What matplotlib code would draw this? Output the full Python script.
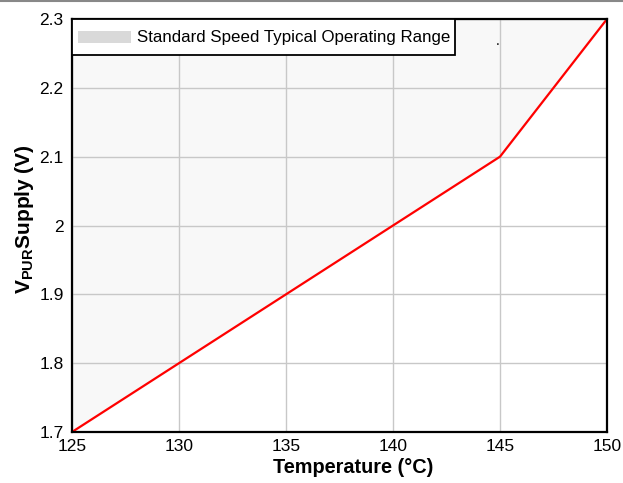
import matplotlib
matplotlib.use("Agg")
import matplotlib.pyplot as plt
from matplotlib.patches import Rectangle

plt.rcParams['font.family'] = ['Liberation Sans', 'DejaVu Sans']
plt.rcParams['mathtext.fontset'] = 'custom'
plt.rcParams['mathtext.bf'] = 'Liberation Sans:bold'
plt.rcParams['mathtext.rm'] = 'Liberation Sans'

# Data
temperature = [125, 145, 150]
vpur_supply = [1.7, 2.1, 2.3]
x_ticks = [125, 130, 135, 140, 145, 150]
y_ticks = [1.7, 1.8, 1.9, 2.0, 2.1, 2.2, 2.3]
y_tick_labels = ['1.7', '1.8', '1.9', '2', '2.1', '2.2', '2.3']
legend_label = 'Standard Speed Typical Operating Range'

fig = plt.figure(figsize=(6.23, 4.83), dpi=100)
ax = fig.add_axes([72 / 623, 1 - 432 / 483, 535 / 623, 413 / 483])

# shaded operating range above the limit line
ax.fill_between(temperature, vpur_supply, max(y_ticks), color='#f8f8f8', zorder=0.2)
ax.plot(temperature, vpur_supply, color='#ff0000', lw=1.6, zorder=3)

ax.set_xlim(125, 150)
ax.set_ylim(1.7, 2.3)
ax.set_xticks(x_ticks)
ax.set_yticks(y_ticks)
ax.set_yticklabels(y_tick_labels)
ax.tick_params(length=0, labelsize=12.5)
ax.tick_params(axis='x', pad=5)
ax.tick_params(axis='y', pad=6)
ax.grid(True, color='#c8c8c8', lw=1)
ax.set_axisbelow(True)
for s in ax.spines.values():
    s.set_linewidth(1.6)
    s.set_zorder(5)

ax.set_xlabel('Temperature (°C)', fontsize=14.3, fontweight='bold')
ax.xaxis.set_label_coords(0.525, -0.063)
ax.set_ylabel(r'V$_{\mathbf{PUR}}$Supply (V)', fontsize=15, fontweight='bold')
ax.yaxis.set_label_coords(-0.067, 0.515)

# legend box drawn by hand to match the square layout
ax.add_patch(Rectangle((0, 0.913), 0.716, 0.087, transform=ax.transAxes,
                       facecolor='white', edgecolor='black', lw=1.3, zorder=6, clip_on=False))
ax.add_patch(Rectangle((0.0112, 0.942), 0.099, 0.029, transform=ax.transAxes,
                       facecolor='#d9d9d9', edgecolor='none', zorder=7))
ax.text(0.1215, 0.956, legend_label, transform=ax.transAxes, fontsize=12.2,
        va='center', ha='left', zorder=7)
ax.text(0.792, 0.938, '.', transform=ax.transAxes, fontsize=10, zorder=7)

# thin border line at the top of the picture
fig.add_artist(plt.Line2D([0, 1], [0.998, 0.998], color='#888888', lw=1.5, transform=fig.transFigure))

fig.savefig('out.png', dpi=100)
